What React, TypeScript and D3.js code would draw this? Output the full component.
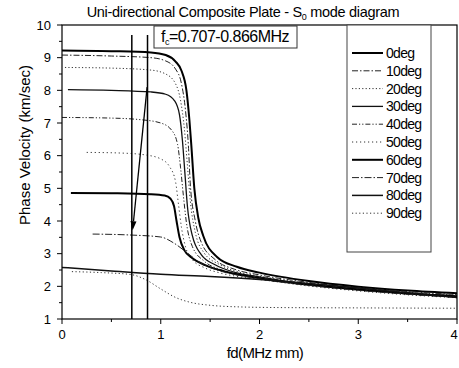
import React from "react";
import * as d3 from "d3";

const W = 459;
const H = 368;

const title = "Uni-directional Composite Plate - S";
const xTicks = [0, 1, 2, 3, 4];
const yTicks = [1, 2, 3, 4, 5, 6, 7, 8, 9, 10];
const seriesNames = ["0deg", "10deg", "20deg", "30deg", "40deg", "50deg", "60deg", "70deg", "80deg", "90deg"];

const s0: [number, number][] = [[0, 9.22], [0.5, 9.2], [0.9, 9.16], [1.05, 9.08], [1.15, 8.88], [1.21, 8.6], [1.26, 8.0], [1.29, 7.1], [1.31, 6.3], [1.34, 5.0], [1.38, 4.1], [1.43, 3.55], [1.57, 2.9], [1.77, 2.6], [2.0, 2.42], [2.5, 2.16], [3, 1.99], [3.5, 1.87], [4, 1.79]];
const s10: [number, number][] = [[0, 9.08], [0.5, 9.05], [0.9, 9.0], [1.05, 8.9], [1.15, 8.65], [1.21, 8.2], [1.25, 7.4], [1.28, 6.3], [1.3, 5.1], [1.35, 4.0], [1.41, 3.35], [1.55, 2.82], [1.75, 2.52], [2.0, 2.35], [2.5, 2.12], [3, 1.96], [3.5, 1.84], [4, 1.75]];
const s20: [number, number][] = [[0.03, 8.7], [0.5, 8.68], [0.9, 8.62], [1.05, 8.5], [1.15, 8.2], [1.2, 7.7], [1.24, 6.8], [1.27, 5.7], [1.3, 4.6], [1.35, 3.65], [1.44, 3.02], [1.6, 2.66], [1.8, 2.43], [2.0, 2.31], [2.5, 2.09], [3, 1.94], [3.5, 1.82], [4, 1.73]];
const s30: [number, number][] = [[0.06, 8.02], [0.5, 8.0], [0.9, 7.95], [1.05, 7.88], [1.14, 7.68], [1.19, 7.25], [1.22, 6.45], [1.245, 5.45], [1.27, 4.45], [1.32, 3.55], [1.41, 2.97], [1.55, 2.66], [1.75, 2.43], [2.0, 2.29], [2.5, 2.06], [3, 1.91], [3.5, 1.79], [4, 1.71]];
const s40: [number, number][] = [[0, 7.17], [0.5, 7.15], [0.8, 7.1], [1.0, 7.0], [1.11, 6.78], [1.17, 6.35], [1.2, 5.65], [1.23, 4.75], [1.26, 3.95], [1.32, 3.22], [1.44, 2.77], [1.6, 2.52], [1.8, 2.36], [2.0, 2.26], [2.5, 2.04], [3, 1.89], [3.5, 1.76], [4, 1.67]];
const s50: [number, number][] = [[0.25, 6.1], [0.6, 6.08], [0.85, 6.02], [1.0, 5.9], [1.09, 5.66], [1.15, 5.2], [1.18, 4.5], [1.21, 3.8], [1.25, 3.22], [1.32, 2.82], [1.45, 2.56], [1.6, 2.41], [1.8, 2.29], [2.0, 2.21], [2.5, 2.01], [3, 1.86], [3.5, 1.74], [4, 1.65]];
const s60: [number, number][] = [[0.09, 4.86], [0.5, 4.85], [0.9, 4.82], [1.04, 4.78], [1.1, 4.68], [1.135, 4.45], [1.16, 4.0], [1.19, 3.5], [1.24, 3.1], [1.32, 2.86], [1.45, 2.65], [1.67, 2.44], [2.0, 2.25], [2.5, 2.05], [3, 1.9], [3.5, 1.78], [4, 1.68]];
const s70: [number, number][] = [[0.31, 3.6], [0.7, 3.57], [1.0, 3.51], [1.13, 3.33], [1.27, 3.02], [1.4, 2.72], [1.55, 2.52], [1.8, 2.33], [2.0, 2.23], [2.5, 2.03], [3, 1.88], [3.5, 1.76], [4, 1.67]];
const s80: [number, number][] = [[0, 2.58], [0.5, 2.47], [1.0, 2.37], [1.5, 2.3], [2.0, 2.21], [2.5, 2.09], [3, 1.95], [3.5, 1.8], [4, 1.66]];
const s90: [number, number][] = [[0.1, 2.45], [0.4, 2.42], [0.7, 2.36], [0.85, 2.2], [1.0, 1.92], [1.15, 1.66], [1.3, 1.51], [1.5, 1.42], [1.8, 1.37], [2.2, 1.35], [3, 1.34], [4, 1.33]];

const seriesData = [s0, s10, s20, s30, s40, s50, s60, s70, s80, s90];

const cutoffs = [0.707, 0.866];
const arrowFrom: [number, number] = [0.862, 8.1];
const arrowTo: [number, number] = [0.715, 3.72];

const styles = [
  { w: 2, dash: "none", c: "#000" },
  { w: 1, dash: "6,2,1.5,2", c: "#222" },
  { w: 1, dash: "1.2,2.2", c: "#333" },
  { w: 1.3, dash: "none", c: "#111" },
  { w: 1, dash: "5,2,1.2,2,1.2,2", c: "#222" },
  { w: 1, dash: "1.2,2.8", c: "#333" },
  { w: 2, dash: "none", c: "#000" },
  { w: 1, dash: "7,2,1.5,2", c: "#222" },
  { w: 1.5, dash: "none", c: "#111" },
  { w: 1, dash: "1.2,2.4", c: "#333" },
];

export default function App() {
  const left = 62, right = 457, top = 25, bottom = 319;
  const x = d3.scaleLinear().domain([0, 4]).range([left, right]);
  const y = d3.scaleLinear().domain([1, 10]).range([bottom, top]);
  const line = d3
    .line<[number, number]>()
    .x((d) => x(d[0]))
    .y((d) => y(d[1]))
    .curve(d3.curveMonotoneX);

  const font = "'Liberation Sans', Arial, sans-serif";
  const xMinor = d3.range(0, 4.01, 0.5).filter((v) => !xTicks.includes(v));
  const yMinor = d3.range(1.5, 10, 1);

  const ax0 = x(arrowFrom[0]), ay0 = y(arrowFrom[1]);
  const ax1 = x(arrowTo[0]), ay1 = y(arrowTo[1]);
  const ang = Math.atan2(ay1 - ay0, ax1 - ax0);
  const hl = 9, hw = 3;
  const bx = ax1 - hl * Math.cos(ang), by = ay1 - hl * Math.sin(ang);
  const head = `M${ax1},${ay1} L${bx + hw * Math.sin(ang)},${by - hw * Math.cos(ang)} L${bx - hw * Math.sin(ang)},${by + hw * Math.cos(ang)} Z`;

  const legX = 347, legR = 431, legBottom = 252;
  const legY0 = 57, legStep = 17.8;

  return (
    <svg width={W} height={H} style={{ position: "absolute", left: 0, top: 0, background: "#fff" }} fontFamily={font}>
      <defs>
        <clipPath id="plot">
          <rect x={left} y={top} width={right - left} height={bottom - top} />
        </clipPath>
      </defs>
      <rect x={0} y={0} width={W} height={H} fill="#fff" />
      <text x={243} y={17} textAnchor="middle" fontSize={14.5} letterSpacing={-0.3}>
        {title}
        <tspan fontSize={9} dy={3}>0</tspan>
        <tspan dy={-3}> mode diagram</tspan>
      </text>

      <g clipPath="url(#plot)">
        {seriesData.map((d, i) => (
          <path key={i} d={line(d) || ""} fill="none" stroke={styles[i].c} strokeWidth={styles[i].w} strokeDasharray={styles[i].dash} />
        ))}
        {cutoffs.map((c, i) => (
          <line key={i} x1={x(c)} x2={x(c)} y1={35} y2={bottom} stroke="#000" strokeWidth={1.5} />
        ))}
        <line x1={ax0} y1={ay0} x2={bx} y2={by} stroke="#000" strokeWidth={1.3} />
        <path d={head} fill="#000" />
      </g>

      <rect x={left} y={top} width={right - left} height={bottom - top} fill="none" stroke="#000" strokeWidth={1.2} />

      <rect x={154} y={26} width={143} height={22} fill="#fff" stroke="#333" strokeWidth={1} />
      <text x={161} y={42} fontSize={16} letterSpacing={-0.5}>
        f<tspan fontSize={9} dy={3}>c</tspan>
        <tspan dy={-3}>=0.707-0.866MHz</tspan>
      </text>

      <rect x={legX} y={top} width={legR - legX} height={legBottom - top} fill="#fff" stroke="#444" strokeWidth={1} />
      {seriesNames.map((n, i) => (
        <g key={n}>
          <line x1={352} x2={383} y1={legY0 + i * legStep - 4} y2={legY0 + i * legStep - 4} stroke={styles[i].c} strokeWidth={styles[i].w} strokeDasharray={styles[i].dash} />
          <text x={386} y={legY0 + i * legStep + 1} fontSize={14} letterSpacing={-0.7}>
            {n}
          </text>
        </g>
      ))}

      {xTicks.map((t) => (
        <g key={"xt" + t}>
          <line x1={x(t)} x2={x(t)} y1={bottom} y2={bottom + 5} stroke="#000" />
          <text x={t === 4 ? x(t) - 3 : x(t)} y={339} textAnchor="middle" fontSize={13}>
            {t}
          </text>
        </g>
      ))}
      {xMinor.map((t) => (
        <line key={"xm" + t} x1={x(t)} x2={x(t)} y1={bottom} y2={bottom + 3} stroke="#000" />
      ))}
      {yTicks.map((t) => (
        <g key={"yt" + t}>
          <line x1={left - 5} x2={left} y1={y(t)} y2={y(t)} stroke="#000" />
          <text x={51} y={y(t) + 4.5} textAnchor="end" fontSize={13}>
            {t}
          </text>
        </g>
      ))}
      {yMinor.map((t) => (
        <line key={"ym" + t} x1={left - 3} x2={left} y1={y(t)} y2={y(t)} stroke="#000" />
      ))}

      <text x={265} y={358} textAnchor="middle" fontSize={15} letterSpacing={-0.6}>
        fd(MHz mm)
      </text>
      <text transform={`translate(30,145) rotate(-90)`} textAnchor="middle" fontSize={15}>
        Phase Velocity (km/sec)
      </text>
    </svg>
  );
}
